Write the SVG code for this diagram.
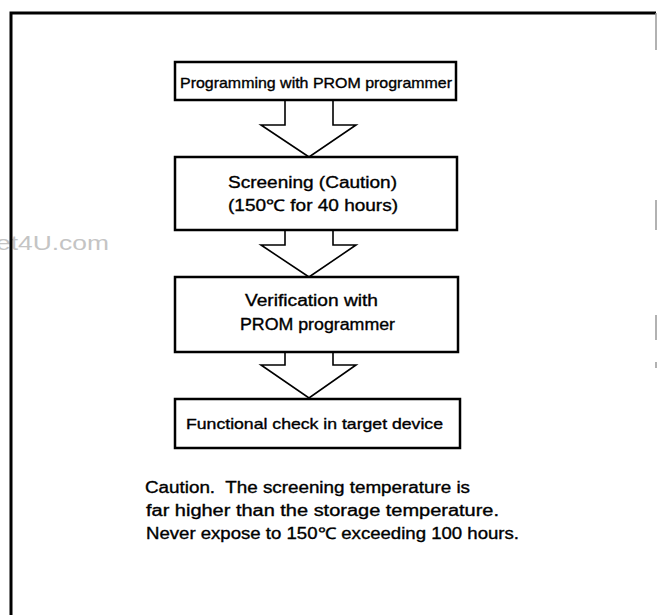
<svg xmlns="http://www.w3.org/2000/svg" width="657" height="615" viewBox="0 0 657 615">
<style>
.box{fill:#fff;stroke:#000;stroke-width:2.5}
.arr{fill:#fff;stroke:#000;stroke-width:1.6;stroke-linejoin:miter}
.t{font-family:"Liberation Sans",Arial,sans-serif;fill:#000;stroke:#000;stroke-width:0.35}
.n{font-size:15px}
.m{font-size:16px}
.c{font-size:16px}
</style>
<rect width="657" height="615" fill="#fff"/>
<text x="-4" y="250" font-family="Liberation Sans,Arial,sans-serif" font-size="21" fill="#c4c4c4" textLength="113" lengthAdjust="spacingAndGlyphs">et4U.com</text>
<g id="frame">
<path d="M11,615 V13 H656" fill="none" stroke="#000" stroke-width="3"/>
<path d="M656,13 V50 M656,200 V230 M656,315 V340 M656,362 V368" fill="none" stroke="#999" stroke-width="1.5"/>
</g>
<g id="connectors">
<polyline class="arr" points="285,101 285,125 261,125 309,157 356,125 333,125 333,101"/>
<polyline class="arr" points="285,231 285,245 261,245 309,277 356,245 333,245 333,231"/>
<polyline class="arr" points="285,353 285,365 261,365 309,398 356,365 333,365 333,353"/>
</g>
<g id="n1">
<rect class="box" x="175" y="62" width="281" height="38"/>
<text class="t n" x="180" y="88" textLength="272" lengthAdjust="spacingAndGlyphs">Programming with PROM programmer</text>
</g>
<g id="n2">
<rect class="box" x="175" y="157" width="282" height="73"/>
<text class="t m" x="228" y="188" textLength="169" lengthAdjust="spacingAndGlyphs">Screening (Caution)</text>
<text class="t m" x="228" y="211" textLength="170" lengthAdjust="spacingAndGlyphs">(150℃ for 40 hours)</text>
</g>
<g id="n3">
<rect class="box" x="175" y="277" width="283" height="75"/>
<text class="t m" x="245" y="306" textLength="133" lengthAdjust="spacingAndGlyphs">Verification with</text>
<text class="t m" x="240" y="330" textLength="155" lengthAdjust="spacingAndGlyphs">PROM programmer</text>
</g>
<g id="n4">
<rect class="box" x="175" y="399" width="285" height="49"/>
<text class="t n" x="186" y="429" textLength="257" lengthAdjust="spacingAndGlyphs">Functional check in target device</text>
</g>
<g id="note">
<text class="t c" x="145" y="493" textLength="325" lengthAdjust="spacingAndGlyphs">Caution.&#160; The screening temperature is</text>
<text class="t c" x="146" y="516" textLength="353" lengthAdjust="spacingAndGlyphs">far higher than the storage temperature.</text>
<text class="t c" x="146" y="539" textLength="373" lengthAdjust="spacingAndGlyphs">Never expose to 150℃ exceeding 100 hours.</text>
</g>
</svg>
